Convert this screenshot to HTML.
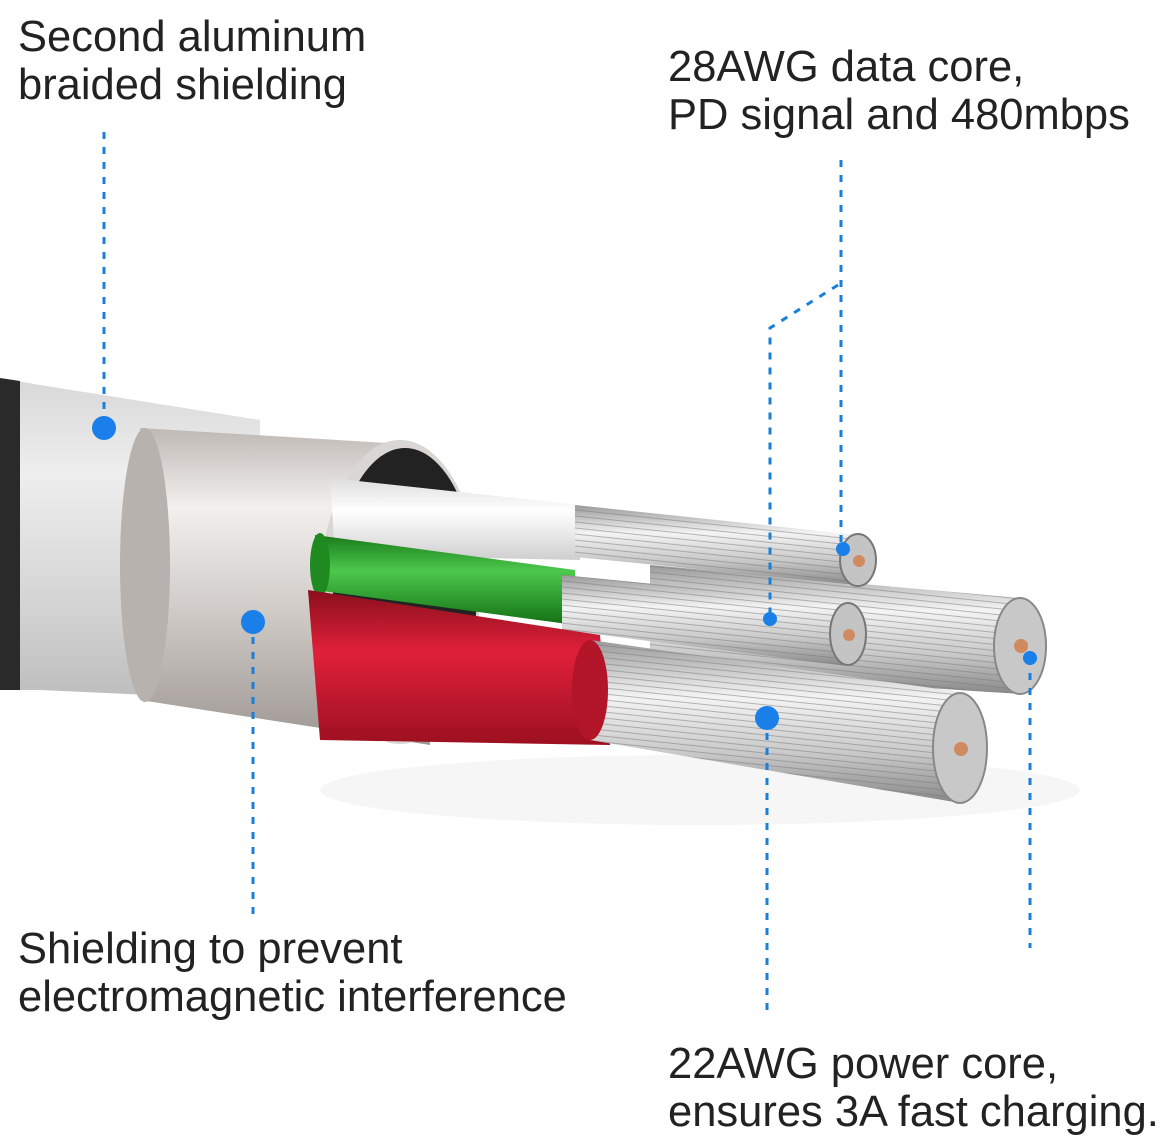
<!DOCTYPE html>
<html><head><meta charset="utf-8"><style>
body{margin:0;background:#fff;width:1160px;height:1142px;overflow:hidden;position:relative;font-family:"Liberation Sans",sans-serif;}
.t{position:absolute;font-size:43.5px;line-height:48px;color:#222;white-space:nowrap;}
svg{position:absolute;left:0;top:0}
</style></head><body>
<svg width="1160" height="1142" viewBox="0 0 1160 1142">
<defs>
<linearGradient id="braid" x1="0" y1="0" x2="0" y2="1"><stop offset="0" stop-color="#d8d8d8"/><stop offset=".3" stop-color="#eeeeee"/><stop offset=".7" stop-color="#d4d4d4"/><stop offset="1" stop-color="#bdbdbd"/></linearGradient>
<linearGradient id="foil" x1="0" y1="0" x2="0" y2="1"><stop offset="0" stop-color="#bfb8b4"/><stop offset=".25" stop-color="#f2f0ee"/><stop offset=".6" stop-color="#cdc8c4"/><stop offset="1" stop-color="#9d9692"/></linearGradient>
<linearGradient id="silver" x1="0" y1="0" x2="0" y2="1"><stop offset="0" stop-color="#9a9a9a"/><stop offset=".35" stop-color="#f4f4f4"/><stop offset=".7" stop-color="#c8c8c8"/><stop offset="1" stop-color="#888"/></linearGradient>
<linearGradient id="green" x1="0" y1="0" x2="0" y2="1"><stop offset="0" stop-color="#1a7a1a"/><stop offset=".4" stop-color="#4cc94c"/><stop offset="1" stop-color="#137013"/></linearGradient>
<linearGradient id="red" x1="0" y1="0" x2="0" y2="1"><stop offset="0" stop-color="#8a0f1c"/><stop offset=".4" stop-color="#e0203a"/><stop offset="1" stop-color="#9c1020"/></linearGradient>
<linearGradient id="white" x1="0" y1="0" x2="0" y2="1"><stop offset="0" stop-color="#ddd"/><stop offset=".4" stop-color="#fff"/><stop offset="1" stop-color="#cfcfcf"/></linearGradient>
<pattern id="str" width="6" height="6" patternUnits="userSpaceOnUse" patternTransform="rotate(6)"><rect width="6" height="6" fill="none"/><line x1="0" y1="3" x2="6" y2="3" stroke="#777" stroke-width="1" opacity=".5"/></pattern>
</defs>
<ellipse cx="700" cy="790" rx="380" ry="35" fill="#f6f6f6"/>
<path d="M0 378 L40 385 L260 420 L260 700 L40 690 L0 690 Z" fill="url(#braid)"/>
<path d="M0 378 L20 381 L20 690 L0 690 Z" fill="#2a2a2a"/>
<path d="M140 428 L420 445 L430 745 L140 700 Z" fill="url(#foil)"/>
<ellipse cx="145" cy="565" rx="25" ry="137" fill="#b8b2ae"/>
<ellipse cx="400" cy="592" rx="80" ry="152" fill="#d9d6d3"/>
<ellipse cx="405" cy="592" rx="72" ry="144" fill="#222"/>
<path d="M650 565 L1020 598 L1020 694 L650 670 Z" fill="url(#silver)"/>
<path d="M650 565 L1020 598 L1020 694 L650 670 Z" fill="url(#str)"/>
<ellipse cx="1020" cy="646" rx="26" ry="48" fill="#c8c8c8" stroke="#888" stroke-width="2"/>
<circle cx="1021" cy="646" r="7" fill="#d08a60"/>
<path d="M330 478 L580 505 L580 560 L335 555 Z" fill="url(#white)"/>
<path d="M575 505 L858 535 L858 585 L575 557 Z" fill="url(#silver)"/>
<path d="M575 505 L858 535 L858 585 L575 557 Z" fill="url(#str)"/>
<ellipse cx="858" cy="560" rx="18" ry="26" fill="#c4c4c4" stroke="#777" stroke-width="2"/>
<circle cx="859" cy="561" r="6" fill="#d08a60"/>
<path d="M315 535 L575 570 L575 625 L315 590 Z" fill="url(#green)"/>
<ellipse cx="320" cy="565" rx="10" ry="32" fill="#1f8a1f"/>
<path d="M562 575 L848 603 L848 666 L562 630 Z" fill="url(#silver)"/>
<path d="M562 575 L848 603 L848 666 L562 630 Z" fill="url(#str)"/>
<ellipse cx="848" cy="634" rx="18" ry="31" fill="#c4c4c4" stroke="#777" stroke-width="2"/>
<circle cx="849" cy="635" r="6" fill="#d08a60"/>
<path d="M308 590 L600 635 L610 745 L320 740 Z" fill="url(#red)"/>
<path d="M590 640 L960 692 L960 803 L590 740 Z" fill="url(#silver)"/>
<path d="M590 640 L960 692 L960 803 L590 740 Z" fill="url(#str)"/>
<ellipse cx="590" cy="690" rx="18" ry="50" fill="#b21528"/>
<ellipse cx="960" cy="748" rx="27" ry="55" fill="#c8c8c8" stroke="#888" stroke-width="2"/>
<circle cx="961" cy="749" r="7" fill="#d08a60"/>
<g stroke="#1a7fd8" stroke-width="3" stroke-dasharray="7 8" fill="none">
<line x1="104" y1="132" x2="104" y2="428"/>
<line x1="253" y1="622" x2="253" y2="915"/>
<line x1="841" y1="160" x2="841" y2="549"/>
<polyline points="838,285 770,328 770,619"/>
<line x1="767" y1="718" x2="767" y2="1015"/>
<line x1="1030" y1="658" x2="1030" y2="948"/>
</g>
<g fill="#1a7fe8">
<circle cx="104" cy="428" r="12"/>
<circle cx="253" cy="622" r="12"/>
<circle cx="843" cy="549" r="7"/>
<circle cx="770" cy="619" r="7"/>
<circle cx="767" cy="718" r="12"/>
<circle cx="1030" cy="658" r="7"/>
</g>
</svg>
<div class="t" style="left:18px;top:13px">Second aluminum<br>braided shielding</div>
<div class="t" style="left:668px;top:43px">28AWG data core,<br>PD signal and 480mbps</div>
<div class="t" style="left:18px;top:925px">Shielding to prevent<br>electromagnetic interference</div>
<div class="t" style="left:668px;top:1040px">22AWG power core,<br>ensures 3A fast charging.</div>
</body></html>
